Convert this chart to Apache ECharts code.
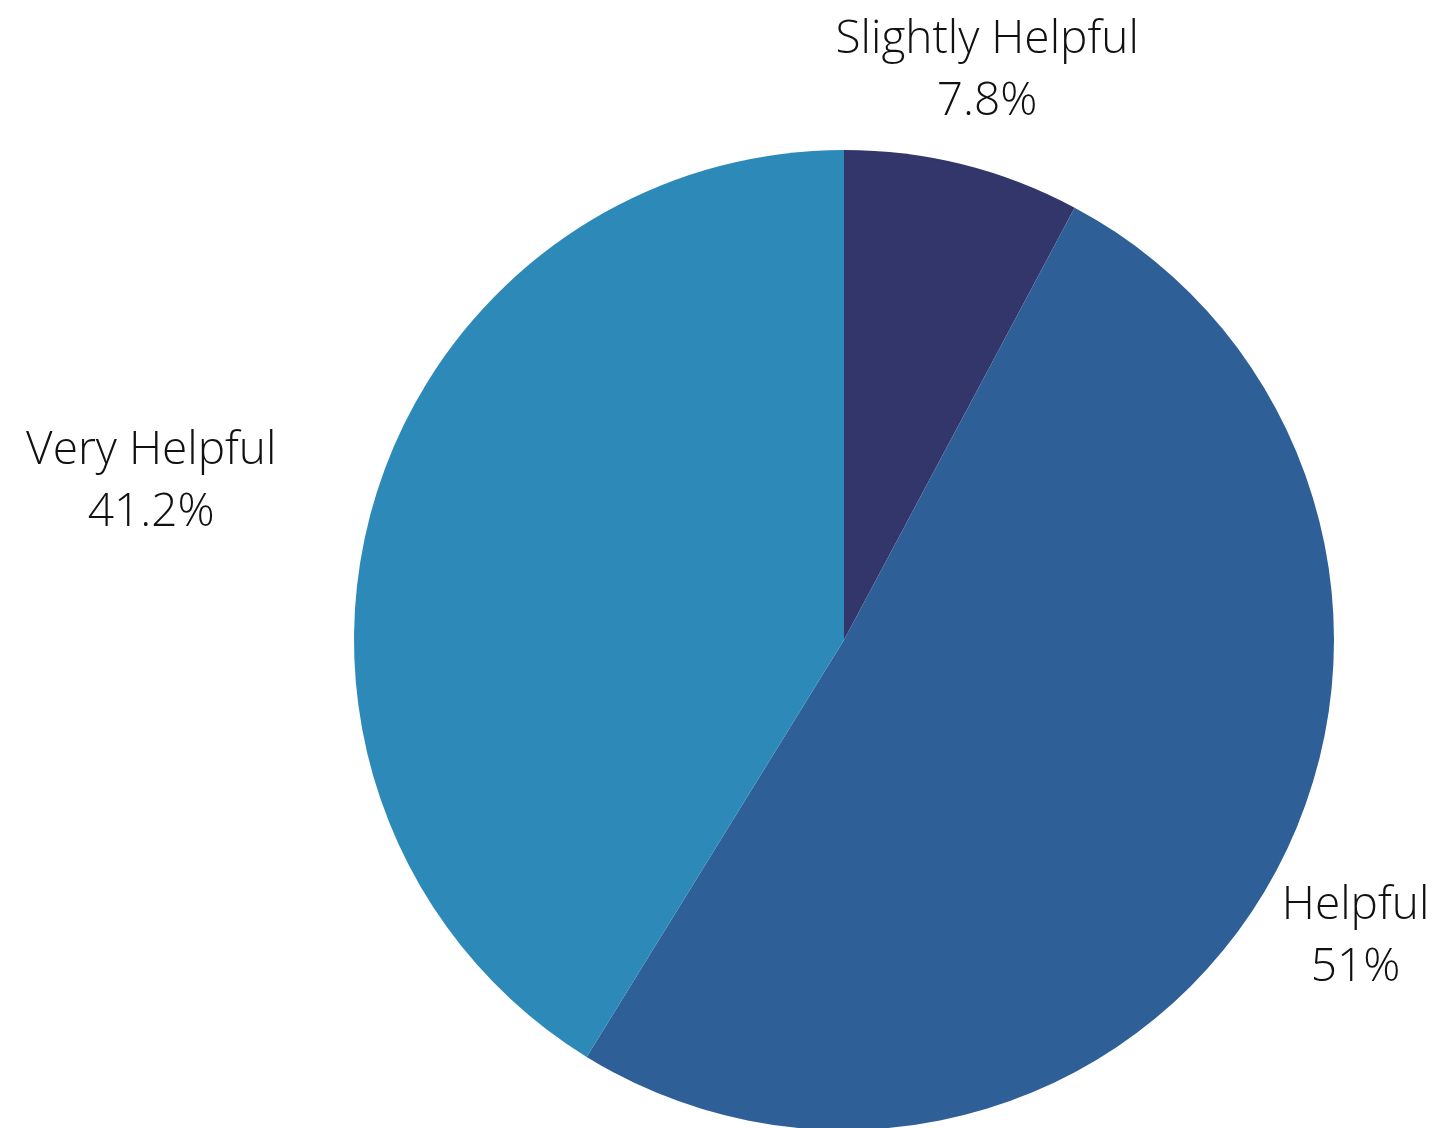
<!DOCTYPE html>
<html>
<head>
<meta charset="utf-8">
<title>Helpfulness</title>
<script src="https://cdn.jsdelivr.net/npm/echarts@6/dist/echarts.min.js"></script>
<style>
  html, body { margin: 0; padding: 0; background: #ffffff; }
  #chart { width: 1433px; height: 1128px; }
</style>
</head>
<body>
<div id="chart"></div>
<script>
// Share of responses per rating, in percent (clockwise from 12 o'clock)
const categories = ['Slightly Helpful', 'Helpful', 'Very Helpful'];
const shares = [7.8, 51, 41.2];
const sliceColors = ['#32366b', '#2f5f97', '#2d8ab8'];

const pieCenter = [844, 640];

const chart = echarts.init(document.getElementById('chart'), null, { renderer: 'canvas' });

chart.setOption({
  backgroundColor: '#ffffff',
  animation: false,
  series: [{
    type: 'pie',
    center: pieCenter,
    radius: [0, 490],
    startAngle: 90,
    clockwise: true,
    avoidLabelOverlap: false,
    data: categories.map((name, i) => ({
      name,
      value: shares[i],
      itemStyle: { color: sliceColors[i] }
    })),
    itemStyle: { borderWidth: 0 },
    emphasis: { disabled: true },
    label: {
      show: true,
      position: 'outside',
      distanceToLabelLine: 0,
      overflow: 'none',
      formatter: p => '{t|' + p.name + '}\n{t|' + p.value + '%}',
      rich: {
        t: {
          align: 'center',
          fontFamily: '"Open Sans", sans-serif',
          fontWeight: 300,
          fontSize: 46,
          lineHeight: 62,
          color: '#111111'
        }
      }
    },
    labelLine: { show: false, length: 100, length2: 0 },
    // Labels on the right of the pie are centred on their anchor point
    labelLayout: function (p) {
      const r = p.labelRect;
      if (!r) return {};
      if (r.x + r.width / 2 < pieCenter[0]) return { dy: 3 };
      return { x: r.x, dy: 3, align: 'center' };
    }
  }]
});
</script>
</body>
</html>
